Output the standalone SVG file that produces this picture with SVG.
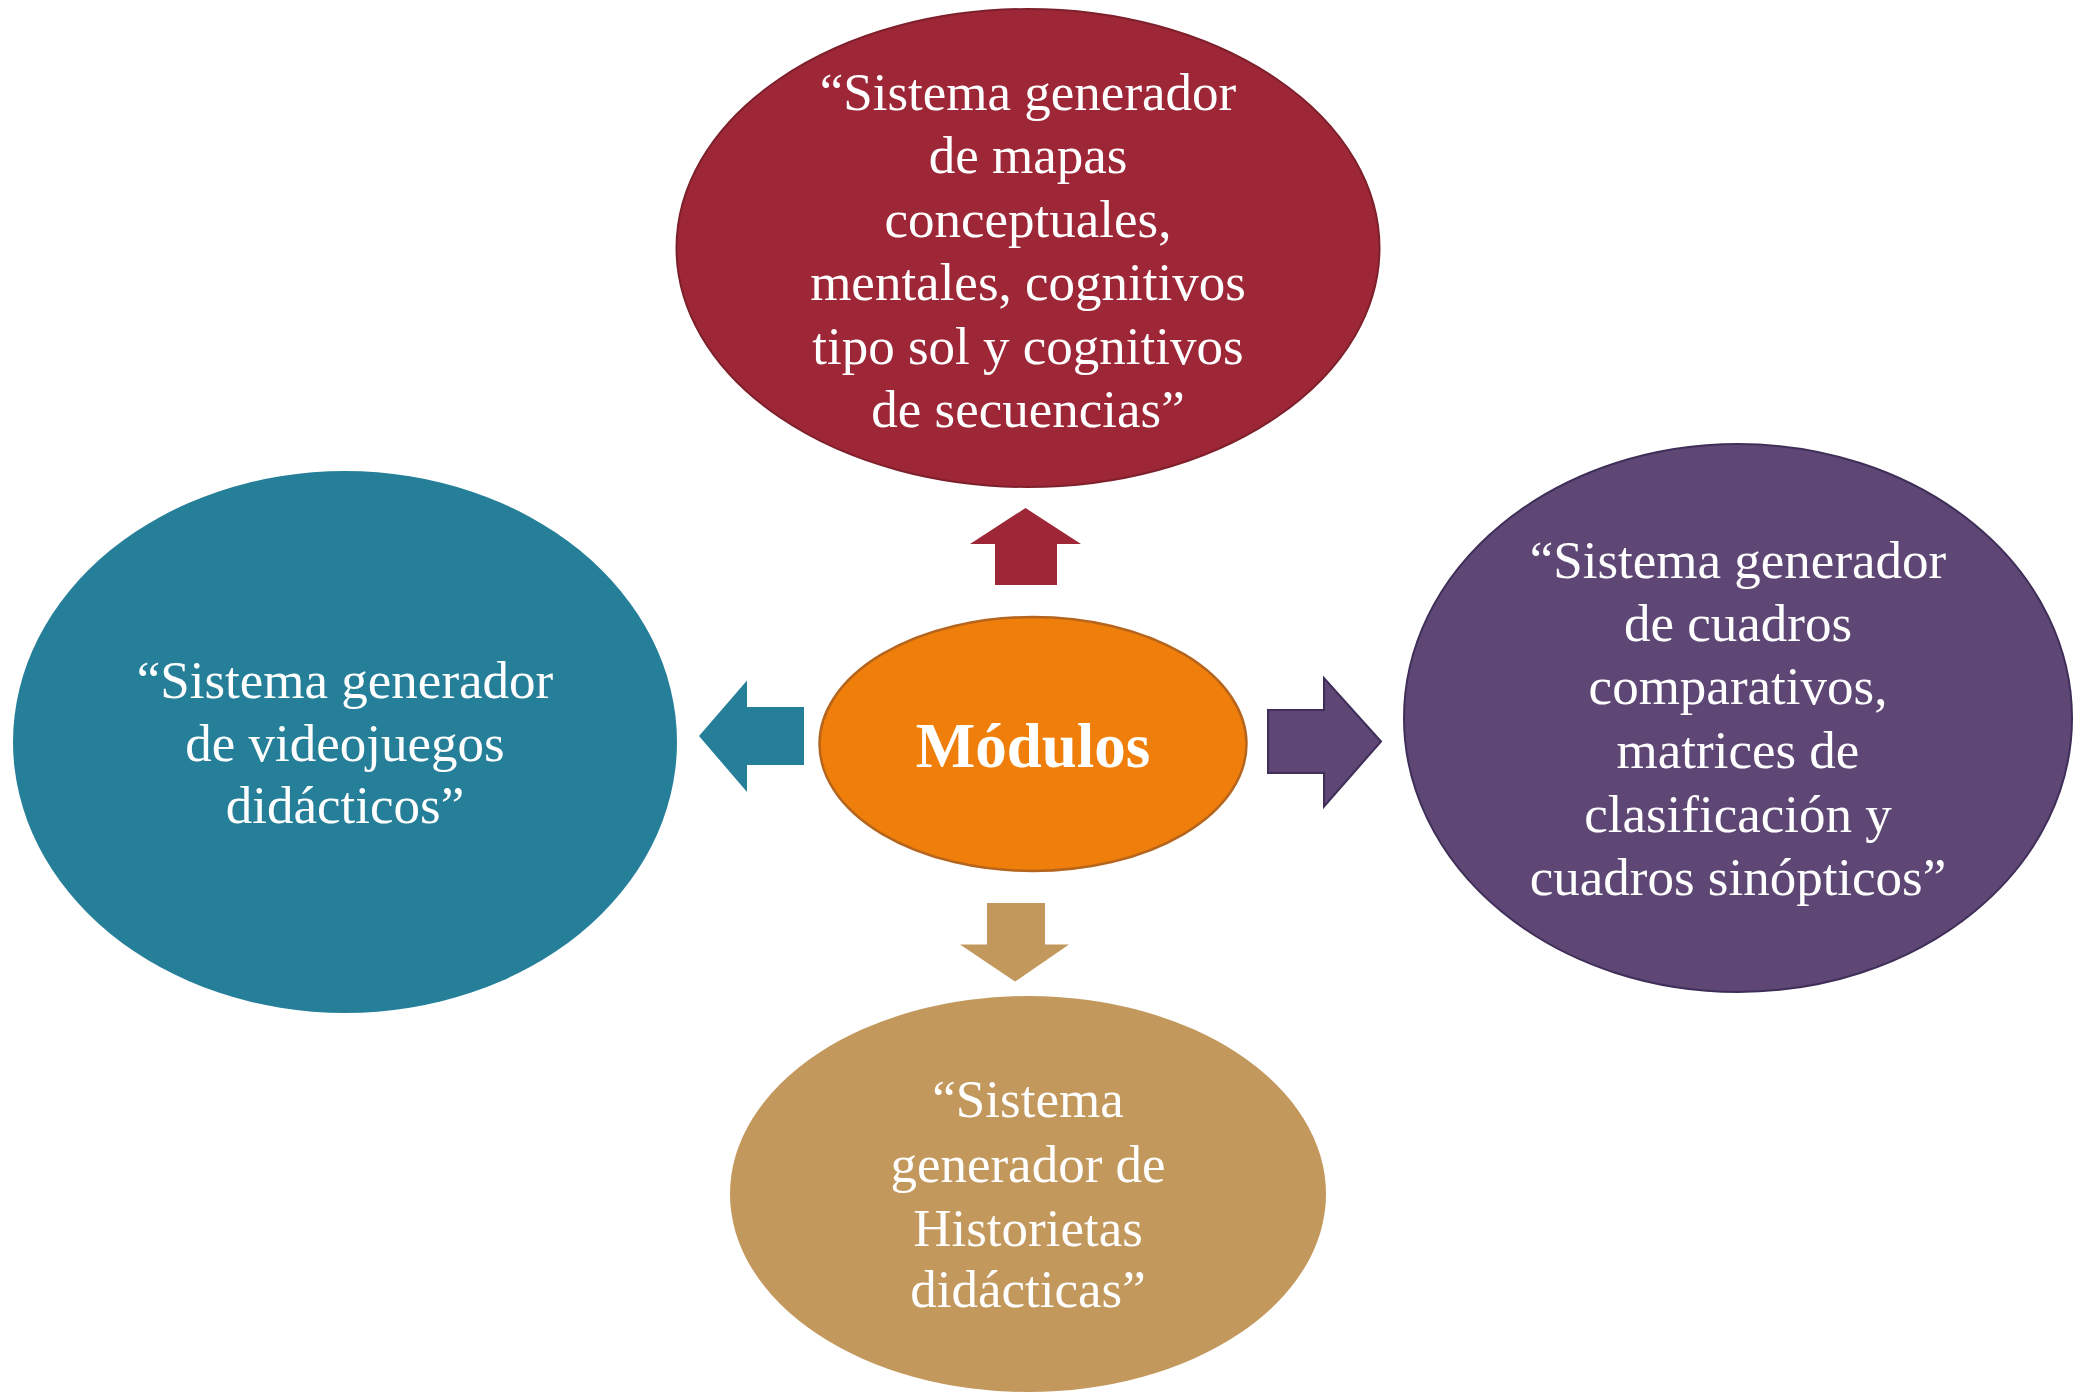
<svg xmlns="http://www.w3.org/2000/svg" width="2080" height="1393" viewBox="0 0 2080 1393">
<style>
.t{font-family:"Liberation Serif","Times New Roman",serif;font-size:53px;fill:#ffffff;text-anchor:middle}
.b{font-family:"Liberation Serif","Times New Roman",serif;font-size:63px;font-weight:bold;fill:#ffffff;text-anchor:middle}
</style>
<rect width="2080" height="1393" fill="#ffffff"/>
<g id="connectors">
<polygon id="arrow-up" points="1025.5,508 1081,544 1057,544 1057,585 995,585 995,544 970,544" fill="#9E2737"/>
<polygon id="arrow-left" points="699,736 747,680.5 747,707 804,707 804,765 747,765 747,792" fill="#267F99"/>
<polygon id="arrow-right" points="1381,741.5 1324,678 1324,710 1268,710 1268,773 1324,773 1324,806.5" fill="#5E4775" stroke="#3F2F58" stroke-width="2"/>
<polygon id="arrow-down" points="1015,981.6 1069,944.5 1045,944.5 1045,903 987,903 987,944.5 960,944.5" fill="#C2985C"/>
</g>
<g id="node-top">
<ellipse cx="1028" cy="248" rx="351.5" ry="239" fill="#9E2737" stroke="#7E1F2C" stroke-width="2"/>
<text class="t" x="1028" y="110">“Sistema generador</text>
<text class="t" x="1028" y="173">de mapas</text>
<text class="t" x="1028" y="237">conceptuales,</text>
<text class="t" x="1028" y="300">mentales, cognitivos</text>
<text class="t" x="1028" y="364">tipo sol y cognitivos</text>
<text class="t" x="1028" y="427">de secuencias”</text>
</g>
<g id="node-left">
<ellipse cx="345" cy="742" rx="332" ry="271" fill="#267F99"/>
<text class="t" x="345" y="698">“Sistema generador</text>
<text class="t" x="345" y="761">de videojuegos</text>
<text class="t" x="345" y="823">didácticos”</text>
</g>
<g id="node-right">
<ellipse cx="1738" cy="718" rx="334" ry="274" fill="#5E4775" stroke="#3F2F58" stroke-width="2"/>
<text class="t" x="1738" y="578">“Sistema generador</text>
<text class="t" x="1738" y="641">de cuadros</text>
<text class="t" x="1738" y="704">comparativos,</text>
<text class="t" x="1738" y="768">matrices de</text>
<text class="t" x="1738" y="832">clasificación y</text>
<text class="t" x="1738" y="895">cuadros sinópticos”</text>
</g>
<g id="node-bottom">
<ellipse cx="1028" cy="1194" rx="298" ry="198" fill="#C2985C"/>
<text class="t" x="1028" y="1117">“Sistema</text>
<text class="t" x="1028" y="1182">generador de</text>
<text class="t" x="1028" y="1246">Historietas</text>
<text class="t" x="1028" y="1307">didácticas”</text>
</g>
<g id="node-center">
<ellipse cx="1033" cy="744" rx="213.5" ry="127" fill="#EF7F0A" stroke="#B5651D" stroke-width="2.5"/>
<text class="b" x="1033" y="767">Módulos</text>
</g>
</svg>
